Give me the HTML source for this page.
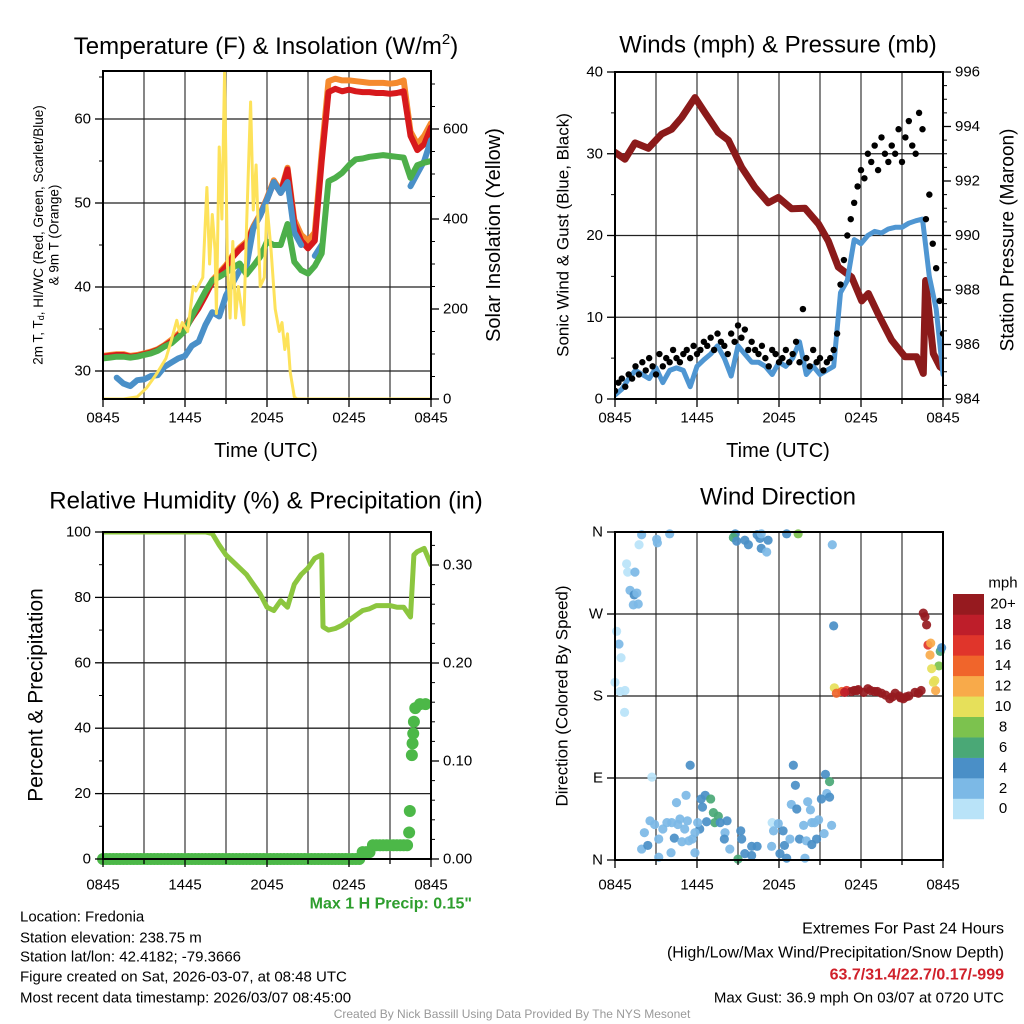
<!DOCTYPE html>
<html><head><meta charset="utf-8">
<style>
html,body{margin:0;padding:0;background:#fff;}
svg{display:block;font-family:"Liberation Sans",Arial,sans-serif;}
</style></head>
<body>
<svg id="chart" width="1024" height="1024" viewBox="0 0 1024 1024" xmlns="http://www.w3.org/2000/svg">
<rect x="0" y="0" width="1024" height="1024" fill="#fff"/>
<text x="266" y="54" font-size="24" text-anchor="middle">Temperature (F) &amp; Insolation (W/m<tspan dy="-10" font-size="15">2</tspan><tspan dy="10">)</tspan></text>
<text x="778" y="45" font-size="24" text-anchor="middle" dominant-baseline="central">Winds (mph) &amp; Pressure (mb)</text>
<text x="266" y="501" font-size="24" text-anchor="middle" dominant-baseline="central">Relative Humidity (%) &amp; Precipitation (in)</text>
<text x="778" y="497" font-size="24" text-anchor="middle" dominant-baseline="central">Wind Direction</text>

<text x="266" y="451" font-size="20" text-anchor="middle" dominant-baseline="central">Time (UTC)</text>
<text x="778" y="451" font-size="20" text-anchor="middle" dominant-baseline="central">Time (UTC)</text>

<text transform="translate(38,235) rotate(-90)" font-size="13.5" text-anchor="middle" dominant-baseline="central">2m T, T<tspan font-size="9" dy="3">d</tspan><tspan dy="-3">, HI/WC (Red, Green, Scarlet/Blue)</tspan></text>
<text transform="translate(54,235) rotate(-90)" font-size="13.5" text-anchor="middle" dominant-baseline="central">&amp; 9m T (Orange)</text>
<text transform="translate(494,235) rotate(-90)" font-size="20" text-anchor="middle" dominant-baseline="central">Solar Insolation (Yellow)</text>
<text transform="translate(563,235) rotate(-90)" font-size="17" text-anchor="middle" dominant-baseline="central">Sonic Wind &amp; Gust (Blue, Black)</text>
<text transform="translate(1008,240) rotate(-90)" font-size="19" text-anchor="middle" dominant-baseline="central">Station Pressure (Maroon)</text>
<text transform="translate(36,695) rotate(-90)" font-size="21" text-anchor="middle" dominant-baseline="central">Percent &amp; Precipitation</text>
<text transform="translate(562,696) rotate(-90)" font-size="17" text-anchor="middle" dominant-baseline="central">Direction (Colored By Speed)</text>

<text x="472" y="904" font-size="16" font-weight="bold" fill="#2e9e2e" text-anchor="end" dominant-baseline="central">Max 1 H Precip: 0.15"</text>
<g font-size="15" dominant-baseline="central">
<text x="20" y="917">Location: Fredonia</text>
<text x="20" y="938">Station elevation: 238.75 m</text>
<text x="20" y="957">Station lat/lon: 42.4182; -79.3666</text>
<text x="20" y="977">Figure created on Sat, 2026-03-07, at 08:48 UTC</text>
<text x="20" y="998">Most recent data timestamp: 2026/03/07 08:45:00</text>
</g>
<g font-size="16" text-anchor="end" dominant-baseline="central">
<text x="1004" y="929">Extremes For Past 24 Hours</text>
<text x="1004" y="953">(High/Low/Max Wind/Precipitation/Snow Depth)</text>
<text x="1004" y="975" font-weight="bold" fill="#d0202a">63.7/31.4/22.7/0.17/-999</text>
<text x="1004" y="998" font-size="15">Max Gust: 36.9 mph On 03/07 at 0720 UTC</text>
</g>
<text x="512" y="1014" font-size="12" fill="#999" text-anchor="middle" dominant-baseline="central">Created By Nick Bassill Using Data Provided By The NYS Mesonet</text>
</svg>
<script>
// ---- data ----
const halfHours = [0,0.5,1,1.5,2,2.5,3,3.5,4,4.5,5,5.5,6,6.5,7,7.5,8,8.5,9,9.5,10,10.5,11,11.5,12,12.5,13,13.5,14,14.5,15,15.5,16,16.5,17,17.5,18,18.5,19,19.5,20,20.5,21,21.5,22,22.5,23,23.5,24];
const xTickHours = [0,6,12,18,24];
const xTickLabels = ["0845","1445","2045","0245","0845"];
const tempRed = [31.7,31.8,31.9,31.9,31.7,31.8,32.0,32.2,32.5,33.0,33.5,34.2,35.0,36.3,37.5,39.0,40.6,41.5,42.4,43.6,44.5,45.2,47.0,48.5,50.4,52.5,51.2,54.0,47.5,45.5,44.6,45.5,55.0,63.2,63.6,63.3,63.5,63.3,63.2,63.2,63.1,63.1,63.0,63.1,63.3,58.0,56.3,57.0,59.0];
const tempOrange = [31.8,31.9,32.0,32.0,31.8,31.9,32.1,32.3,32.6,33.1,33.7,34.4,35.2,36.5,37.7,39.2,40.8,41.7,42.6,43.8,44.7,45.4,47.2,48.7,50.6,52.7,51.4,54.2,48.0,46.2,45.5,46.5,56.0,64.5,64.8,64.6,64.6,64.5,64.4,64.3,64.3,64.3,64.2,64.3,64.6,58.5,57.0,58.0,59.5];
const dewGreen = [31.5,31.6,31.7,31.7,31.6,31.7,31.9,32.1,32.4,32.9,33.3,34.0,34.8,36.5,38.0,39.5,40.8,41.2,41.7,42.3,42.8,41.5,42.5,43.6,45.4,45.0,45.0,47.5,43.0,42.0,41.6,42.5,44.0,52.6,53.0,53.6,54.5,55.2,55.3,55.5,55.6,55.7,55.6,55.5,55.4,53.0,54.5,54.8,55.0];
const chillBlue = [null,null,29.2,28.5,28.2,28.9,29.0,29.4,29.5,30.5,31.0,31.5,31.8,33.0,33.5,35.5,37.0,36.5,39.0,40.5,42.0,42.5,47.0,48.5,50.4,52.5,51.2,52.5,46.5,45.0,null,43.7,45.0,null,null,null,null,null,null,null,null,null,null,null,null,52.0,53.5,55.0,57.5];
const insolHours = [0,1.5,2.5,3.2,3.9,4.6,5.0,5.4,5.6,5.8,6.2,6.6,6.8,7.3,7.6,7.8,8.0,8.2,8.3,8.5,8.7,8.9,9.1,9.3,9.5,9.7,9.9,10.3,10.5,10.8,11.0,11.2,11.5,11.8,12.0,12.3,12.6,12.9,13.1,13.3,13.5,13.7,14.0,14.2,24];
const insolVals = [0,0,5,25,55,90,130,175,150,170,150,250,240,270,470,300,410,330,190,560,400,730,300,180,350,180,250,165,380,660,420,520,250,270,430,330,200,150,170,110,145,60,5,0,0];

const windBlue = [0.5,1.2,2.5,3.5,3.0,2.5,3.8,2.0,3.5,3.8,3.5,1.5,4.0,4.8,5.5,6.5,5.0,2.8,6.5,5.5,4.5,4.5,4.0,3.0,4.5,4.0,5.0,7.0,3.0,4.0,3.0,3.5,4.0,13.0,14.5,19.5,19.0,20.0,20.5,20.3,20.8,21.0,21.0,21.5,21.8,22.0,15.0,11.0,3.0];
const gustVals = [1,2,2.5,1.5,3,2.5,4,3,4.5, 3.5,5,4,3,5.5,4,5,4.5, 6,5,4.5,5.5,6,5,6.5,5.5, 6,7,6.5,7.5,6,8,7,6.5, 5.5,8,7,9,7.5,8.5,6,7, 6,5.5,6.5,5,4,6,5.5,4.5, 5,6,4.5,5.5,7,4.5,11,5, 4,6,4.5,5,3.5,4.5,5,6, 8,14,17,20,22,24,26,28, 27,30,29,31,28,32,30,29, 31,30,33,29,32,34,31,30, 35,33,22,25,19,16,12,8];
const pressHours = [0,0.73,1.46,2.44,3.41,4.15,4.88,5.85,6.59,7.56,8.29,9.27,10.24,11.22,11.95,12.93,13.9,14.88,15.61,16.34,17.32,18.05,18.54,19.27,20.24,21.22,22.07,22.56,22.73,23.29,23.78,24];
const pressVals = [993.05,992.8,993.4,993.2,993.72,993.9,994.33,995.06,994.5,993.78,993.5,992.5,991.77,991.2,991.4,990.98,991.0,990.43,989.8,988.84,988.47,987.6,987.87,987.1,986.16,985.55,985.55,984.94,988.35,985.67,985.18,985.1];

const rhHours = [0,7.5,8,8.5,9,9.5,10,10.5,11,11.5,12,12.5,13,13.5,14,14.5,15,15.5,16,16.1,16.5,17,17.5,18,18.5,19,19.5,20,20.5,21,21.5,22,22.5,22.75,23,23.5,24];
const rhVals = [100,100,99.5,96,93,91,89,87,84,81,77,76,79,77,84,87,89,92,93,71,70,70.5,71.5,73,74.5,76,76.5,77.5,77.5,77.5,77,77,74,93,94,95,90];
const precipVals = [0,0,0,0,0,0,0,0,0,0,0,0,0,0,0,0,0,0,0,0,0,0,0,0,0,0,0,0,0,0,0,0,0,0,0,0,0,0,0,0,0,0,0,0,0,0,0,0,0,0,0,0,0,0,0,0,0,0,0,0,0,0,0,0,0,0,0,0,0,0,0,0,0,0,0,0,0.007,0.007,0.007,0.014,0.014,0.014,0.014,0.014,0.014,0.014,0.014,0.014,0.014,0.014];
const lateHours = [22.4,22.45,22.6,22.65,22.7,22.75,22.85,23.2,23.6];
const lateVals = [0.027,0.049,0.106,0.118,0.128,0.14,0.154,0.158,0.158];

const dirHours = [1.95,3.05,3.1,4.0,1.76,0.85,0.93,1.46,1.1,1.4,1.6,1.34,1.7,0.12,0.29,0.44,0,0.37,0.73,0.7,
 8.8,8.66,8.9,9.5,9.76,10.4,10.6,10.7,11.2,10.7,11.1,12.56,13.4,15.9,16.0,
 16.05,16.2,16.6,16.95,17.3,17.8,18.5,19.0,19.5,20.1,20.5,21.1,21.5,21.95,22.4,18.2,19.2,19.8,20.8,21.3,22.2,16.8,17.5,17.7,18.7,20.3,20.9,
 22.56,22.68,22.8,22.9,23.1,23.05,23.8,23.9,23.7,23.17,23.4,23.46,23.3,
 2.7,5.5,13.05,13.2,15.4,15.7,15.5,15.1,15.7,
 1.95,2.4,2.15,2.56,2.9,3.2,3.2,3.5,3.8,4.1,4.34,4.5,4.6,4.9,5.1,5.3,5.2,5.66,5.85,6.2,6.3,6.4,6.6,7.0,7.2,7.56,7.3,6.7,7.7,8.2,8.05,8.0,8.4,9.0,9.2,9.27,9.5,10.0,10.4,10.0,6.05,5.4,5.85,4.15,4.75,
 11.5,11.6,11.46,11.95,12.3,12.4,12.56,12.07,12.8,12.9,13.3,13.5,13.8,13.9,14.1,14.3,14.0,14.4,14.6,14.75,14.4,14.9,15.85,15.3];
const dirDegs = [357,352,348,358,346,325,316,316,296,291,293,280,281,251,237,222,195,185,186,162,
 358,354,350,351,346,357,353,358,351,342,338,358,358,346,257,
 189,183,185,186,185,187,188,185,183,177,183,177,180,184,186,184,185,181,180,179,183,184,186,186,186,179,178,
 271,267,258,236,238,225,229,233,213,210,197,186,195,
 91,104,104,82,94,86,73,67,69,
 12,16,30,43,39,23,3,34,41,8,24,63,39,20,34,43,71,23,8,34,67,58,71,67,52,48,41,42,41,43,30,23,12,1,32,23,7,15,15,5,41,21,30,41,45,
 41,32,15,40,32,16,2,7,23,61,56,23,38,2,64,55,21,41,41,23,17,44,38,29];
const dirSpeeds = [3,3,3,3,1,1,1,3,3,5,3,3,3,1,3,1,1,1,1,1,
 5,7,5,5,5,5,5,3,5,5,3,5,9,3,5,
 11,15,15,17,21,21,21,21,21,21,21,21,21,21,21,21,21,21,21,21,21,19,21,21,21,21,21,
 21,21,21,17,13,13,7,5,9,11,11,13,11,
 1,5,5,5,5,7,3,5,5,
 3,5,3,3,3,3,3,3,3,3,5,3,3,3,3,3,3,3,3,5,5,5,5,7,7,7,7,5,5,5,3,5,3,7,5,5,5,5,5,5,3,3,3,3,3,
 1,3,3,3,5,5,5,5,3,3,5,5,3,3,3,3,3,3,3,5,5,3,3,3];
const speedClassLabels = ["0","2","4","6","8","10","12","14","16","18","20+"];
const speedClassColors = ["#b9e3f8","#7cb9e6","#4a8fc7","#4aa876","#7cc24e","#e6e05a","#f8aa4a","#f0652b","#e0352b","#be1e2a","#961a1f"];

// ---- helpers ----
const NS = "http://www.w3.org/2000/svg";
const svg = document.getElementById("chart");
function mk(tag, attrs, parent) {
  const e = document.createElementNS(NS, tag);
  for (const k in attrs) e.setAttribute(k, attrs[k]);
  (parent || svg).appendChild(e);
  return e;
}
function lin(d0, d1, r0, r1) { return v => r0 + (v - d0) / (d1 - d0) * (r1 - r0); }
function pathFrom(xs, ys, fx, fy) {
  let d = "", pen = false;
  for (let i = 0; i < xs.length; i++) {
    if (ys[i] === null || ys[i] === undefined) { pen = false; continue; }
    d += (pen ? "L" : "M") + fx(xs[i]).toFixed(1) + "," + fy(ys[i]).toFixed(1);
    pen = true;
  }
  return d;
}
function frame(p, name) {
  const g = mk("g", {});
  
  
  for (let h = 3; h < 24; h += 3) {
    const x = p.fx(h);
    const ln = mk("line", {x1:x, x2:x, y1:p.y0, y2:p.y1, stroke:"#444", "stroke-width":1.3}, g);
    
    
  }
  p.hgrid.forEach(v => {
    const y = p.fyL(v);
    const ln = mk("line", {x1:p.x0, x2:p.x1, y1:y, y2:y, stroke:"#222", "stroke-width":1.3}, g);
    
    
  });
}
function axes(p, name) {
  const g = mk("g", {"font-size":15});
  
  
  const b = mk("rect", {x:p.x0, y:p.y0, width:p.x1-p.x0, height:p.y1-p.y0, fill:"none", stroke:"#000", "stroke-width":2}, g);
  
  
  for (let h = 0; h <= 24; h += 3) {
    const x = p.fx(h);
    const t = mk("line", {x1:x, x2:x, y1:p.y1, y2:p.y1 + (h % 6 === 0 ? 8 : 5), stroke:"#000", "stroke-width":1.3}, g);
    
    
  }
  xTickHours.forEach((h, i) => {
    const t = mk("text", {x:p.fx(h), y:p.y1 + p.xLabOff, "text-anchor":"middle", "dominant-baseline":"central"}, g);
    t.textContent = xTickLabels[i];
    
    
  });
  p.leftMinor.forEach(v => {
    const y = p.fyL(v);
    const t = mk("line", {x1:p.x0 - 4, x2:p.x0, y1:y, y2:y, stroke:"#000", "stroke-width":1}, g);
    
    
  });
  p.leftTicks.forEach((v, i) => {
    const y = p.fyL(v);
    const t = mk("line", {x1:p.x0 - 8, x2:p.x0, y1:y, y2:y, stroke:"#000", "stroke-width":1.3}, g);
    
    
    const tx = mk("text", {x:p.x0 - 12, y:y, "text-anchor":"end", "dominant-baseline":"central"}, g);
    tx.textContent = p.leftLabels[i];
    
    
  });
  if (p.rightTicks) {
    p.rightMinor.forEach(v => {
      const y = p.fyR(v);
      const t = mk("line", {x1:p.x1, x2:p.x1 + 4, y1:y, y2:y, stroke:"#000", "stroke-width":1}, g);
      
      
    });
    p.rightTicks.forEach((v, i) => {
      const y = p.fyR(v);
      const t = mk("line", {x1:p.x1, x2:p.x1 + 8, y1:y, y2:y, stroke:"#000", "stroke-width":1.3}, g);
      
      
      const tx = mk("text", {x:p.x1 + 12, y:y, "dominant-baseline":"central"}, g);
      tx.textContent = p.rightLabels[i];
      
      
    });
  }
}
function series(xs, ys, p, fy, color, w, name) {
  const e = mk("path", {d:pathFrom(xs, ys, p.fx, fy), fill:"none", stroke:color, "stroke-width":w, "stroke-linejoin":"round", "stroke-linecap":"round", "clip-path":"url(#" + p.clip + ")"});
  
  
  return e;
}
function range(a, b, s) { const r = []; for (let v = a; v <= b + 1e-9; v += s) r.push(+v.toFixed(4)); return r; }
const defs = mk("defs", {});
function clip(id, p) {
  const c = mk("clipPath", {id:id}, defs);
  mk("rect", {x:p.x0, y:p.y0, width:p.x1-p.x0, height:p.y1-p.y0}, c);
  p.clip = id;
}

// ---- panel 1: temperature ----
const P1 = {x0:103, x1:431, y0:71, y1:399, xLabOff:19};
P1.fx = lin(0, 24, P1.x0, P1.x1);
P1.fyL = lin(30, 60, 371, 119);
P1.fyR = lin(0, 600, 399, 129);
P1.hgrid = [30,40,50,60];
P1.leftTicks = [30,40,50,60]; P1.leftLabels = ["30","40","50","60"];
P1.leftMinor = [35,45,55,65];
P1.rightTicks = [0,200,400,600]; P1.rightLabels = ["0","200","400","600"];
P1.rightMinor = range(50, 700, 50);
clip("c1", P1);
frame(P1, "temp");
series(halfHours, tempOrange, P1, P1.fyL, "#f58a2e", 6, "temp-9m-line");
series(halfHours, tempRed, P1, P1.fyL, "#d7191c", 6, "temp-2m-line");
series(halfHours, chillBlue, P1, P1.fyL, "#4a90c8", 6, "heat-index-windchill-line");
series(halfHours, dewGreen, P1, P1.fyL, "#4daf4a", 6, "dewpoint-line");
series(insolHours, insolVals, P1, P1.fyR, "#fde25a", 3, "insolation-line");
axes(P1, "temp");

// ---- panel 2: wind & pressure ----
const P2 = {x0:615, x1:943, y0:72, y1:399, xLabOff:19};
P2.fx = lin(0, 24, P2.x0, P2.x1);
P2.fyL = lin(0, 40, 399, 72);
P2.fyR = lin(984, 996, 399, 72);
P2.hgrid = [10,20,30];
P2.leftTicks = [0,10,20,30,40]; P2.leftLabels = ["0","10","20","30","40"];
P2.leftMinor = [5,15,25,35];
P2.rightTicks = [984,986,988,990,992,994,996]; P2.rightLabels = ["984","986","988","990","992","994","996"];
P2.rightMinor = range(984.5, 995.5, 0.5);
clip("c2", P2);
frame(P2, "wind");
series(pressHours, pressVals, P2, P2.fyR, "#8b1a1a", 7, "pressure-line");
series(halfHours, windBlue, P2, P2.fyL, "#4f96d2", 5, "wind-speed-line");
const gustG = mk("g", {"clip-path":"url(#c2)"});


gustVals.forEach((v, i) => {
  const c = mk("circle", {cx:P2.fx(i * 0.25), cy:P2.fyL(v), r:3.2, fill:"#000"}, gustG);
  
  
});
axes(P2, "wind");

// ---- panel 3: RH & precip ----
const P3 = {x0:103, x1:431, y0:532, y1:859, xLabOff:26};
P3.fx = lin(0, 24, P3.x0, P3.x1);
P3.fyL = lin(0, 100, 859, 532);
P3.fyR = lin(0, 0.3, 859, 565);
P3.hgrid = [20,40,60,80];
P3.leftTicks = [0,20,40,60,80,100]; P3.leftLabels = ["0","20","40","60","80","100"];
P3.leftMinor = [10,30,50,70,90];
P3.rightTicks = [0,0.1,0.2,0.3]; P3.rightLabels = ["0.00","0.10","0.20","0.30"];
P3.rightMinor = range(0.02, 0.32, 0.02);
clip("c3", P3);
frame(P3, "rh");
series(rhHours, rhVals, P3, P3.fyL, "#8cc63f", 5, "rh-line");
const prG = mk("g", {});


precipVals.forEach((v, i) => {
  const c = mk("circle", {cx:P3.fx(i * 0.25), cy:P3.fyR(v), r:6, fill:"#4cb848"}, prG);
  
  
});
lateHours.forEach((h, i) => {
  const c = mk("circle", {cx:P3.fx(h), cy:P3.fyR(lateVals[i]), r:6, fill:"#4cb848"}, prG);
  
  
});
axes(P3, "rh");

// ---- panel 4: wind direction ----
const P4 = {x0:615, x1:943, y0:532, y1:860, xLabOff:25};
P4.fx = lin(0, 24, P4.x0, P4.x1);
P4.fyL = lin(0, 360, 860, 532);
P4.hgrid = [90,180,270];
P4.leftTicks = [0,90,180,270,360]; P4.leftLabels = ["N","E","S","W","N"];
P4.leftMinor = [];
clip("c4", P4);
frame(P4, "direction");
const dG = mk("g", {});


dirHours.forEach((h, i) => {
  const idx = Math.min(10, Math.floor(dirSpeeds[i] / 2));
  const c = mk("circle", {cx:P4.fx(h), cy:P4.fyL(dirDegs[i]), r:4.6, fill:speedClassColors[idx], "fill-opacity":0.92}, dG);
  
  
});
axes(P4, "direction");

// colorbar
const cb = mk("g", {"font-size":15});


const cbTop = 594, cbH = 20.45;
speedClassColors.forEach((col, i) => {
  const y = cbTop + (10 - i) * cbH;
  const r = mk("rect", {x:953, y:y, width:31, height:cbH + 0.3, fill:col}, cb);
  
  
  const t = mk("text", {x:1003, y:y + cbH / 2, "text-anchor":"middle", "dominant-baseline":"central"}, cb);
  t.textContent = speedClassLabels[i];
  
  
});
const mph = mk("text", {x:1003, y:583, "text-anchor":"middle", "dominant-baseline":"central"}, cb);
mph.textContent = "mph";


</script>
</body></html>
